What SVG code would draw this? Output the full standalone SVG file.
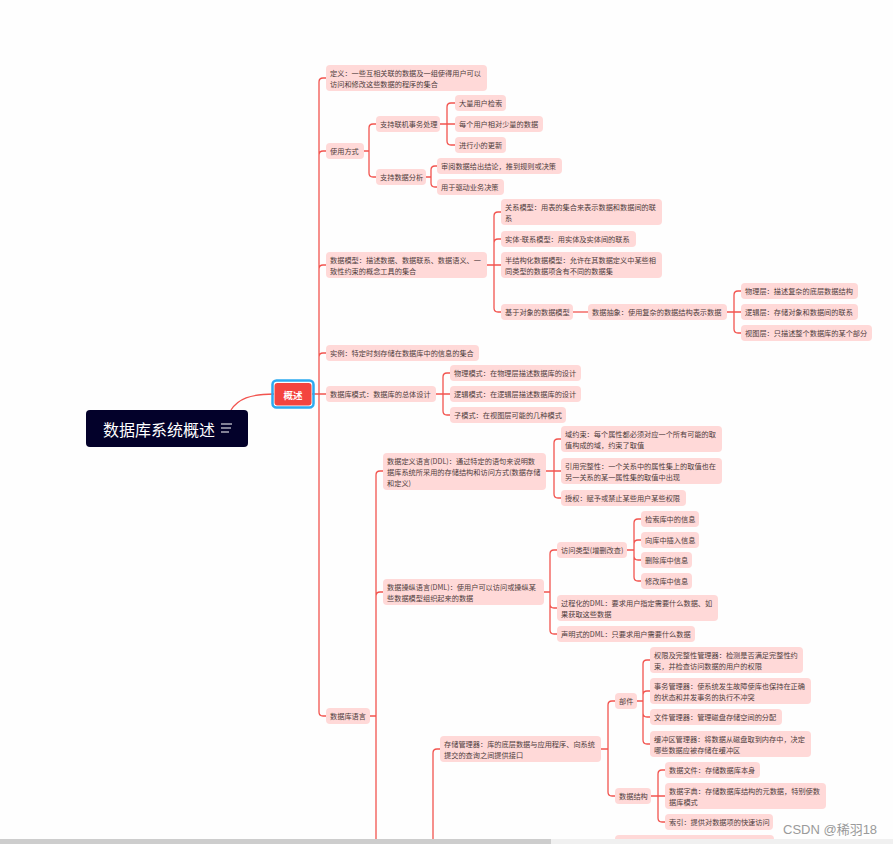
<svg xmlns="http://www.w3.org/2000/svg" width="893" height="844" viewBox="0 0 893 844">
<style>
.n rect{fill:#ffd9d8}
.n text{font-family:"Noto Sans CJK SC","Noto Sans",sans-serif;font-size:7.2px;fill:#4f3d3d;dominant-baseline:central}
#connectors path{fill:none;stroke:#f2544f;stroke-width:1.3}
</style>
<rect width="893" height="844" fill="#fefefe"/>
<g id="connectors">
<path d="M231,410 C238,399 250,394 274,394"/>
<path d="M312,394 H326 M319,394 V82 Q319,78 323,78 H326 M319,394 V155 Q319,151 323,151 H326 M319,394 V269 Q319,265 323,265 H326 M319,394 V357 Q319,353 323,353 H326 M319,394 V712 Q319,716 323,716 H326"/>
<path d="M364,151 H369 M369,151 V128 Q369,124 373,124 H376 M369,151 V173 Q369,177 373,177 H376"/>
<path d="M440,124 H455 M447,124 V107 Q447,103 451,103 H455 M447,124 V141 Q447,145 451,145 H455"/>
<path d="M426,177 H431 M431,177 V170 Q431,166 435,166 H437 M431,177 V183 Q431,187 435,187 H437"/>
<path d="M487,265 H501 M494,265 V216 Q494,212 498,212 H501 M494,265 V243 Q494,239 498,239 H501 M494,265 V308 Q494,312 498,312 H501"/>
<path d="M573,312 H588"/>
<path d="M727,312 H741 M734,312 V295 Q734,291 738,291 H741 M734,312 V329 Q734,333 738,333 H741"/>
<path d="M436,394 H450 M443,394 V377 Q443,373 447,373 H450 M443,394 V411 Q443,415 447,415 H450"/>
<path d="M370,716 H376 M376,844 V475 Q376,471 380,471 H383 M376,716 V596 Q376,592 380,592 H383"/>
<path d="M546,471 H561 M554,471 V443 Q554,439 558,439 H561 M554,471 V494 Q554,498 558,498 H561"/>
<path d="M544,592 H550 M550,592 V554 Q550,550 554,550 H557 M550,592 V604 Q550,608 554,608 H557 M550,592 V630 Q550,634 554,634 H557"/>
<path d="M627,550 H634 M634,550 V523 Q634,519 638,519 H641 M634,550 V544 Q634,540 638,540 H641 M634,550 V556 Q634,560 638,560 H641 M634,550 V577 Q634,581 638,581 H641"/>
<path d="M440,749 H437 Q433,749 433,753 V844"/>
<path d="M601,749 H608 M608,749 V705 Q608,701 612,701 H615 M608,749 V792 Q608,796 612,796 H615"/>
<path d="M637,701 H643 M643,701 V664 Q643,660 647,660 H650 M643,701 V695 Q643,691 647,691 H650 M643,701 V713 Q643,717 647,717 H650 M643,701 V740 Q643,744 647,744 H650"/>
<path d="M651,796 H665 M658,796 V774 Q658,770 662,770 H665 M658,796 V818 Q658,822 662,822 H665"/>
</g>
<g id="root">
<rect x="86" y="410" width="162" height="37" rx="4" fill="#03012a"/>
<text x="103" y="429" font-family="Noto Sans CJK SC,sans-serif" font-size="16" fill="#ffffff" dominant-baseline="central">数据库系统概述</text>
<path d="M221,424 H232 M221,428 H231 M221,432 H229" stroke="#ffffff" stroke-width="1.2" fill="none"/>
</g>
<g id="n-overview">
<rect x="272.5" y="380.5" width="41" height="27" rx="4" fill="none" stroke="#2eaaf0" stroke-width="2.5"/>
<rect x="274.5" y="383" width="37" height="22.5" rx="3" fill="#f4443f"/>
<text x="293" y="394.5" font-family="Noto Sans CJK SC,sans-serif" font-size="9.5" font-weight="bold" fill="#ffffff" text-anchor="middle" dominant-baseline="central">概述</text>
</g>
<g id="n-def" class="n"><rect x="326" y="65" width="161" height="26" rx="4"/><text x="330" y="72.5">定义：一些互相关联的数据及一组使得用户可以</text><text x="330" y="83.5">访问和修改这些数据的程序的集合</text></g>
<g id="n-use" class="n"><rect x="326" y="143" width="38" height="16" rx="4"/><text x="330" y="151">使用方式</text></g>
<g id="n-oltp" class="n"><rect x="376" y="116" width="64" height="16" rx="4"/><text x="380" y="124">支持联机事务处理</text></g>
<g id="n-oltp1" class="n"><rect x="455" y="95" width="51" height="16" rx="4"/><text x="459" y="103">大量用户检索</text></g>
<g id="n-oltp2" class="n"><rect x="455" y="116" width="88" height="16" rx="4"/><text x="459" y="124">每个用户相对少量的数据</text></g>
<g id="n-oltp3" class="n"><rect x="455" y="137" width="51" height="16" rx="4"/><text x="459" y="145">进行小的更新</text></g>
<g id="n-ana" class="n"><rect x="376" y="169" width="50" height="16" rx="4"/><text x="380" y="177">支持数据分析</text></g>
<g id="n-ana1" class="n"><rect x="437" y="158" width="125" height="16" rx="4"/><text x="441" y="166">审阅数据给出结论，推到规则或决策</text></g>
<g id="n-ana2" class="n"><rect x="437" y="179" width="67" height="16" rx="4"/><text x="441" y="187">用于驱动业务决策</text></g>
<g id="n-model" class="n"><rect x="326" y="252" width="161" height="26" rx="4"/><text x="330" y="259.5">数据模型：描述数据、数据联系、数据语义、一</text><text x="330" y="270.5">致性约束的概念工具的集合</text></g>
<g id="n-rel" class="n"><rect x="501" y="199" width="161" height="26" rx="4"/><text x="505" y="206.5">关系模型：用表的集合来表示数据和数据间的联</text><text x="505" y="217.5">系</text></g>
<g id="n-er" class="n"><rect x="501" y="231" width="135" height="16" rx="4"/><text x="505" y="239">实体-联系模型：用实体及实体间的联系</text></g>
<g id="n-semi" class="n"><rect x="501" y="252" width="161" height="26" rx="4"/><text x="505" y="259.5">半结构化数据模型：允许在其数据定义中某些相</text><text x="505" y="270.5">同类型的数据项含有不同的数据集</text></g>
<g id="n-obj" class="n"><rect x="501" y="304" width="72" height="16" rx="4"/><text x="505" y="312">基于对象的数据模型</text></g>
<g id="n-abs" class="n"><rect x="588" y="304" width="139" height="16" rx="4"/><text x="592" y="312">数据抽象：使用复杂的数据结构表示数据</text></g>
<g id="n-phy" class="n"><rect x="741" y="283" width="117" height="16" rx="4"/><text x="745" y="291">物理层：描述复杂的底层数据结构</text></g>
<g id="n-log" class="n"><rect x="741" y="304" width="117" height="16" rx="4"/><text x="745" y="312">逻辑层：存储对象和数据间的联系</text></g>
<g id="n-view" class="n"><rect x="741" y="325" width="131" height="16" rx="4"/><text x="745" y="333">视图层：只描述整个数据库的某个部分</text></g>
<g id="n-inst" class="n"><rect x="326" y="345" width="153" height="16" rx="4"/><text x="330" y="353">实例：特定时刻存储在数据库中的信息的集合</text></g>
<g id="n-schema" class="n"><rect x="326" y="386" width="110" height="16" rx="4"/><text x="330" y="394">数据库模式：数据库的总体设计</text></g>
<g id="n-ps" class="n"><rect x="450" y="365" width="131" height="16" rx="4"/><text x="454" y="373">物理模式：在物理层描述数据库的设计</text></g>
<g id="n-ls" class="n"><rect x="450" y="386" width="131" height="16" rx="4"/><text x="454" y="394">逻辑模式：在逻辑层描述数据库的设计</text></g>
<g id="n-ss" class="n"><rect x="450" y="407" width="116" height="16" rx="4"/><text x="454" y="415">子模式：在视图层可能的几种模式</text></g>
<g id="n-lang" class="n"><rect x="326" y="708" width="44" height="16" rx="4"/><text x="330" y="716">数据库语言</text></g>
<g id="n-ddl" class="n"><rect x="383" y="453" width="163" height="37" rx="4"/><text x="387" y="460.5">数据定义语言(DDL)：通过特定的语句来说明数</text><text x="387" y="471.5">据库系统所采用的存储结构和访问方式(数据存储</text><text x="387" y="482.5">和定义)</text></g>
<g id="n-dom" class="n"><rect x="561" y="426" width="161" height="26" rx="4"/><text x="565" y="433.5">域约束：每个属性都必须对应一个所有可能的取</text><text x="565" y="444.5">值构成的域，约束了取值</text></g>
<g id="n-ref" class="n"><rect x="561" y="458" width="161" height="26" rx="4"/><text x="565" y="465.5">引用完整性：一个关系中的属性集上的取值也在</text><text x="565" y="476.5">另一关系的某一属性集的取值中出现</text></g>
<g id="n-auth" class="n"><rect x="561" y="490" width="125" height="16" rx="4"/><text x="565" y="498">授权：赋予或禁止某些用户某些权限</text></g>
<g id="n-dml" class="n"><rect x="383" y="579" width="161" height="26" rx="4"/><text x="387" y="586.5">数据操纵语言(DML)：使用户可以访问或操纵某</text><text x="387" y="597.5">些数据模型组织起来的数据</text></g>
<g id="n-acc" class="n"><rect x="557" y="542" width="70" height="16" rx="4"/><text x="561" y="550">访问类型(增删改查)</text></g>
<g id="n-q" class="n"><rect x="641" y="511" width="58" height="16" rx="4"/><text x="645" y="519">检索库中的信息</text></g>
<g id="n-i" class="n"><rect x="641" y="532" width="58" height="16" rx="4"/><text x="645" y="540">向库中插入信息</text></g>
<g id="n-d" class="n"><rect x="641" y="552" width="51" height="16" rx="4"/><text x="645" y="560">删除库中信息</text></g>
<g id="n-u" class="n"><rect x="641" y="573" width="51" height="16" rx="4"/><text x="645" y="581">修改库中信息</text></g>
<g id="n-proc" class="n"><rect x="557" y="595" width="161" height="26" rx="4"/><text x="561" y="602.5">过程化的DML：要求用户指定需要什么数据、如</text><text x="561" y="613.5">果获取这些数据</text></g>
<g id="n-decl" class="n"><rect x="557" y="626" width="138" height="16" rx="4"/><text x="561" y="634">声明式的DML：只要求用户需要什么数据</text></g>
<g id="n-sm" class="n"><rect x="440" y="736" width="161" height="26" rx="4"/><text x="444" y="743.5">存储管理器：库的底层数据与应用程序、向系统</text><text x="444" y="754.5">提交的查询之间提供接口</text></g>
<g id="n-comp" class="n"><rect x="615" y="693" width="22" height="16" rx="4"/><text x="619" y="701">部件</text></g>
<g id="n-authm" class="n"><rect x="650" y="647" width="153" height="26" rx="4"/><text x="654" y="654.5">权限及完整性管理器：检测是否满足完整性约</text><text x="654" y="665.5">束，并检查访问数据的用户的权限</text></g>
<g id="n-tx" class="n"><rect x="650" y="678" width="161" height="26" rx="4"/><text x="654" y="685.5">事务管理器：使系统发生故障使库也保持在正确</text><text x="654" y="696.5">的状态和并发事务的执行不冲突</text></g>
<g id="n-file" class="n"><rect x="650" y="709" width="132" height="16" rx="4"/><text x="654" y="717">文件管理器：管理磁盘存储空间的分配</text></g>
<g id="n-buf" class="n"><rect x="650" y="731" width="161" height="26" rx="4"/><text x="654" y="738.5">缓冲区管理器：将数据从磁盘取到内存中，决定</text><text x="654" y="749.5">哪些数据应被存储在缓冲区</text></g>
<g id="n-ds" class="n"><rect x="615" y="788" width="36" height="16" rx="4"/><text x="619" y="796">数据结构</text></g>
<g id="n-df" class="n"><rect x="665" y="762" width="95" height="16" rx="4"/><text x="669" y="770">数据文件：存储数据库本身</text></g>
<g id="n-dd" class="n"><rect x="665" y="783" width="161" height="26" rx="4"/><text x="669" y="790.5">数据字典：存储数据库结构的元数据，特别使数</text><text x="669" y="801.5">据库模式</text></g>
<g id="n-idx" class="n"><rect x="665" y="814" width="108" height="16" rx="4"/><text x="669" y="822">索引：提供对数据项的快速访问</text></g>
<g id="n-partial" class="n"><rect x="615" y="835" width="159" height="16" rx="4"/></g>
<text x="783" y="834" font-family="Liberation Sans,Noto Sans CJK SC,sans-serif" font-size="13" fill="#9a9a9a">CSDN @稀羽18</text>
<rect x="0" y="839" width="893" height="5" fill="#f0f0f0"/>
<rect x="0" y="839" width="551" height="5" fill="#cdcdcd"/>
</svg>
